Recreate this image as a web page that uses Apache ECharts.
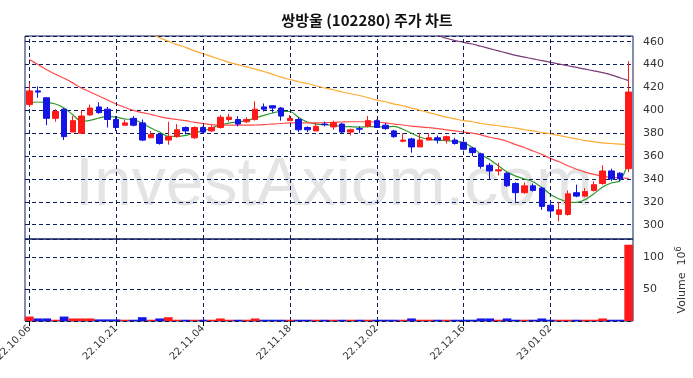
<!DOCTYPE html>
<html>
<head>
<meta charset="utf-8"/>
<script src="https://cdn.jsdelivr.net/npm/echarts@6/dist/echarts.min.js"></script>
</head>
<body style="margin:0;background:#fff">
<div id="main" style="width:693px;height:378px;"></div>
<script>
// 거래일 (22.10.06 ~ 23.01.13)
var dates = ['22.10.06','22.10.07','22.10.11','22.10.12','22.10.13','22.10.14','22.10.17','22.10.18','22.10.19','22.10.20',
  '22.10.21','22.10.24','22.10.25','22.10.26','22.10.27','22.10.28','22.10.31','22.11.01','22.11.02','22.11.03',
  '22.11.04','22.11.07','22.11.08','22.11.09','22.11.10','22.11.11','22.11.14','22.11.15','22.11.16','22.11.17',
  '22.11.18','22.11.21','22.11.22','22.11.23','22.11.24','22.11.25','22.11.28','22.11.29','22.11.30','22.12.01',
  '22.12.02','22.12.05','22.12.06','22.12.07','22.12.08','22.12.09','22.12.12','22.12.13','22.12.14','22.12.15',
  '22.12.16','22.12.19','22.12.20','22.12.21','22.12.22','22.12.23','22.12.26','22.12.27','22.12.28','22.12.29',
  '23.01.02','23.01.03','23.01.04','23.01.05','23.01.06','23.01.09','23.01.10','23.01.11','23.01.12','23.01.13'];

var openP  = [405,417,411,393,401,381,380,396,403,401, 392,387,393,389,376,379,374,377,385,376,
              385,382,385,392,392,390,392,403,404,402, 391,392,385,382,388,385.5,388,381,384,386,
              391,387,382,373,375,368,374,376,374,374, 372,367,362,352,347,345,336,328,334,332,
              317,309,309,328,325,330,336,347,345,349];
var closeP = [417,416,393,399,377,391,395,402,398,392, 385,389,387,374,379,371,377,383,382,385,
              381,385,394,394,388,392,401,401,402,395, 393,383,383,386,387.5,389,381,383,383.5,391,
              385,384,377,374,368,374,376,374,377,371, 366,363,351,347,348,334,328,334,330,316,
              312,313,327,325,329,335,347,340,340,416];
var lowP   = [403,411,387,390,374,381,380,395,397,385, 382,387,386,373,376,370,370,376,379,375,
              380,381,384,390,386,389,391,399,398,391, 391,381,381,382,386,383,380,378,380,385,
              385,383,376,372,363,368,374,371,371,370, 365,360,349,340,343,333,320,327,329,313,
              309,303,308,324,324,329,335,338,338,346];
var highP  = [424,421,411,401,402,395,400,405,407,403, 395,392,395,392,382,380,390,388,386,386,
              386,387,396,397,395,394,408,406,404,403, 396,394,386,389,390,391,389,384,386,395,
              392,389,383,380,376,380,380,378,378,376, 373,368,363,354,354,346,337,337,336,333,
              321,320,330,335,332,338,352,349,346,443];

// 거래량 (백만주)
var volume = [7,4,4,2,7,4,4,4,2.5,2.5, 2.5,2,2,6,2,4,6,2,2,2,
              2,2,4,2,2,2,4,2,2,2, 2,2,2,2,2,2,2,2,2,2,
              2,2,2,2,4,2,2,2,2,2, 2,2,4,4,2,4,2,2,2,4,
              2,2,2,2,2,2,4,2,2,120];

// 이동평균선
var ma5 = [406.5,407.3,407,405.5,402,396.2,390.3,391.2,393.3,394.7, 394,392.4,391.8,388.9,384.5,381,377.2,377.2,378.1,380.2,
           382.2,384.6,387.4,388.9,389.8,391,393.3,395.6,397.7,399, 399,393.8,389.8,388,387.4,386.8,386,385.7,385.4,385.7,
           385.7,385.4,386,383.5,380,376.5,374.5,374,373.5,373, 371.5,367.5,361.5,357,351.5,346,342.5,340,337.5,332.5,
           326.5,322.5,320,319.5,322,327,333,336.5,338.5,355];
var ma20 = [444.5,440,435.5,431.5,428,424,419.5,416,412.5,409, 405.5,402.5,400,398,396.5,394.5,393,392,391,389.5,
            388.5,387.5,387,387,387,387,387.2,387.5,388,388.5, 389,389,389,389,389.2,389.5,389.8,390,390,390,
            389.8,389,388,387.2,386.2,385.5,384.8,384,383,382, 381,380,378.5,376.5,375,373,370,367.5,364.5,361.5,
            358,355,351.5,348.5,346,344,342.5,341.5,341,340.5];
var ma60 = ['-','-','-','-','-','-','-','-','-','-', '-','-','-','-',467,463.5,460.5,457.5,455,452,
            449.5,447,444.5,442,440,438,436,434,431.5,429, 427,425,423.5,421.5,419.5,418,416,414.5,413,411,
            409,407.5,405.5,404,402,400,398,396,394,392.5, 391,390,388.5,387.5,386.5,385.5,384.5,383,382,380.5,
            379.5,378,376.5,375,373.5,372.5,371.5,371,370.5,370];
var ma120 = ['-','-','-','-','-','-','-','-','-','-', '-','-','-','-','-','-','-','-','-','-',
             '-','-','-','-','-','-','-','-','-','-', '-','-','-','-','-','-','-','-','-','-',
             '-','-','-','-','-','-','-',466,463,461, 459.5,458,456,454,452,450,448,446.5,445,443.5,
             442,440.5,439,437.5,436,434.5,433,431,428.5,426];

var priceTicks = [300,320,340,360,380,400,420,440,460];
var volTicks = [50,100];
var labelDates = ['22.10.06','22.10.21','22.11.04','22.11.18','22.12.02','22.12.16','23.01.02'];

var UP = '#ff1a1a', DOWN = '#1414e6', NAVY = '#0c1c5c';

var candles = dates.map(function (d, i) { return [openP[i], closeP[i], lowP[i], highP[i]]; });
var volBars = volume.map(function (v, i) {
  return { value: v, itemStyle: { color: closeP[i] >= openP[i] ? UP : DOWN } };
});

function vLines() {
  return {
    silent: true, symbol: 'none', animation: false,
    label: { show: false },
    lineStyle: { color: NAVY, type: [4, 3], width: 1 },
    data: labelDates.map(function (d) { return { xAxis: d }; })
  };
}

var myChart = echarts.init(document.getElementById('main'));
var FONT = 'DejaVu Sans';
myChart.setOption({
  animation: false,
  backgroundColor: '#fff',
  title: {
    text: '쌍방울 (102280) 주가 차트',
    left: 362, top: 8, textAlign: 'center',
    textStyle: { fontFamily: 'Noto Sans CJK KR', fontSize: 15, fontWeight: 'bold', color: '#111' }
  },
  graphic: [{
    type: 'text', left: 75, top: 152, z: -10, silent: true,
    style: { text: 'InvestAxiom.com', font: '68px "Liberation Sans"', fill: '#e4e4e4' }
  }],
  grid: [
    { left: 25, right: 60, top: 36, height: 203, outerBoundsMode: 'none', containLabel: false,
      show: true, borderColor: NAVY, borderWidth: 1, backgroundColor: 'transparent' },
    { left: 25, right: 60, top: 239, height: 82, outerBoundsMode: 'none', containLabel: false,
      show: true, borderColor: NAVY, borderWidth: 1, backgroundColor: 'transparent' }
  ],
  xAxis: [
    { type: 'category', gridIndex: 0, data: dates, boundaryGap: true,
      axisLine: { show: false }, axisTick: { show: false }, axisLabel: { show: false }, splitLine: { show: false } },
    { type: 'category', gridIndex: 1, data: dates, boundaryGap: true,
      axisLine: { show: false },
      axisTick: { show: true, alignWithLabel: true, length: 5, lineStyle: { color: '#000' },
        interval: function (i, v) { return labelDates.indexOf(v) >= 0; } },
      axisLabel: { show: true, rotate: 45, fontSize: 10, fontFamily: FONT, color: '#333', margin: 6,
        interval: function (i, v) { return labelDates.indexOf(v) >= 0; } },
      splitLine: { show: false } }
  ],
  yAxis: [
    { type: 'value', gridIndex: 0, position: 'right', min: 287.5, max: 465, splitNumber: 8,
      axisLine: { show: false },
      axisTick: { show: false },
      axisLabel: { fontSize: 11, fontFamily: FONT, color: '#333', margin: 10, showMinLabel: false, showMaxLabel: false,
        formatter: function (v) { return priceTicks.indexOf(v) >= 0 ? v : ''; } },
      splitLine: { show: true, lineStyle: { color: NAVY, type: [4, 3], width: 1 } } },
    { type: 'value', gridIndex: 1, position: 'right', min: 0, max: 129, interval: 50,
      axisLine: { show: false },
      axisTick: { show: false },
      axisLabel: { fontSize: 11, fontFamily: FONT, color: '#333', margin: 10, showMaxLabel: false,
        formatter: function (v) { return volTicks.indexOf(v) >= 0 ? v : ''; } },
      splitLine: { show: true, lineStyle: { color: NAVY, type: [4, 3], width: 1 } },
      name: 'Volume  10{s|6}', nameLocation: 'middle', nameRotate: 90, nameGap: 40,
      nameTextStyle: { fontSize: 11, fontFamily: FONT, color: '#333',
        rich: { s: { fontSize: 8, verticalAlign: 'top', padding: [0, 0, 6, 0], fontFamily: FONT, color: '#333' } } } }
  ],
  series: [
    { type: 'candlestick', xAxisIndex: 0, yAxisIndex: 0, data: candles, barWidth: 6, z: 5,
      itemStyle: { color: UP, color0: DOWN, borderColor: UP, borderColor0: DOWN, borderWidth: 1 },
      markLine: vLines() },
    { type: 'line', xAxisIndex: 0, yAxisIndex: 0, data: ma5, symbol: 'none', smooth: 0.3, z: 4,
      lineStyle: { color: '#2e9a2e', width: 1.2 } },
    { type: 'line', xAxisIndex: 0, yAxisIndex: 0, data: ma20, symbol: 'none', smooth: 0.3, z: 4,
      lineStyle: { color: '#ff4a4a', width: 1.2 } },
    { type: 'line', xAxisIndex: 0, yAxisIndex: 0, data: ma60, symbol: 'none', smooth: 0.3, z: 4,
      lineStyle: { color: '#ffaa33', width: 1.2 } },
    { type: 'line', xAxisIndex: 0, yAxisIndex: 0, data: ma120, symbol: 'none', smooth: 0.3, z: 4,
      lineStyle: { color: '#7a3a78', width: 1.2 } },
    { type: 'bar', xAxisIndex: 1, yAxisIndex: 1, data: volBars, barWidth: '100%', z: 5 },
    { type: 'line', xAxisIndex: 1, yAxisIndex: 1, data: [], symbol: 'none', z: 3,
      markLine: vLines() }
  ]
});
</script>
</body>
</html>
